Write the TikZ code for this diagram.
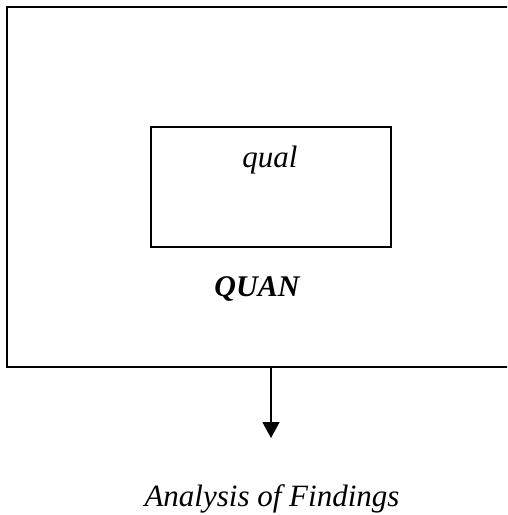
\documentclass[tikz,border=0pt]{standalone}
\usepackage{fontspec}
\setmainfont{Liberation Serif}
\usetikzlibrary{arrows.meta}
\begin{document}
\begin{tikzpicture}[x=1pt,y=-1pt,
  box/.style={draw, line width=1.6pt, inner sep=0pt, outer sep=0pt},
  lbl/.style={font=\fontsize{31}{35}\selectfont\itshape, anchor=base, inner sep=0pt},
  conn/.style={line width=1.6pt, -{Triangle[width=17pt,length=16pt]}}]
\clip (0,0) rectangle (507,515);
\useasboundingbox (0,0) rectangle (507,515);
\node[box, anchor=north west, minimum width=510pt, minimum height=360pt] (outer) at (7,7) {};
\node[box, anchor=north west, minimum width=240pt, minimum height=120pt] (inner) at (151,127) {};
\node[lbl] (qual) at (270,167) {qual};
\node[lbl, font=\fontsize{30}{34}\selectfont\bfseries\itshape] (quan) at (257,296) {QUAN};
\coordinate (tip) at (271,438);
\draw[conn] (outer.south -| tip) -- (tip);
\node[lbl] (findings) at (272,506) {Analysis of Findings};
\end{tikzpicture}
\end{document}
